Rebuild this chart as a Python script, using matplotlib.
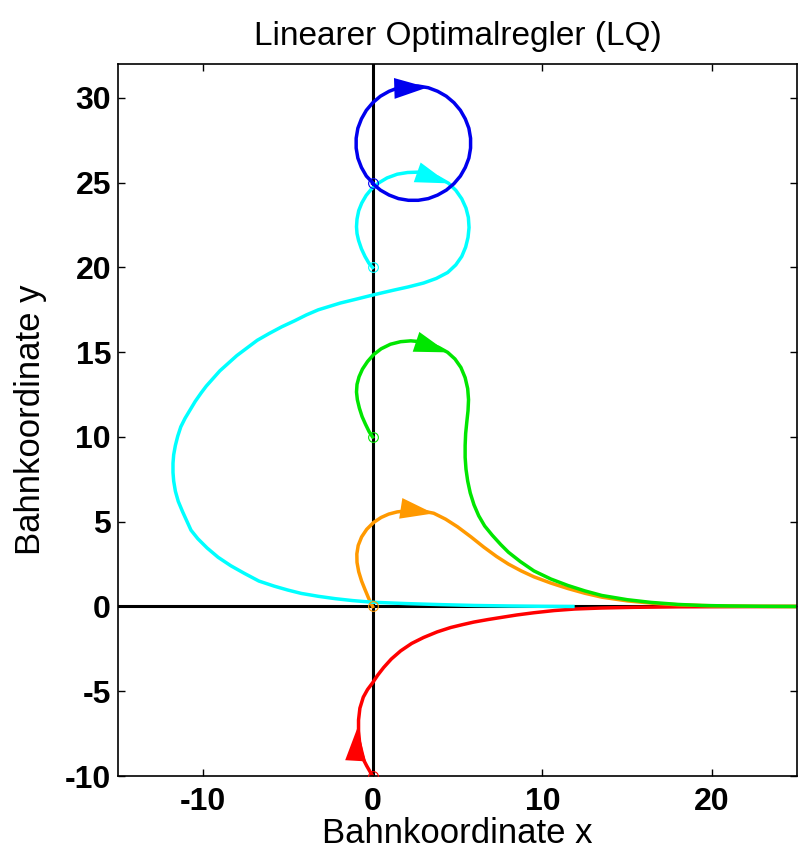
import matplotlib
matplotlib.use("Agg")
import matplotlib.pyplot as plt

plt.rcParams['font.family'] = ['Liberation Sans', 'DejaVu Sans']
plt.rcParams['axes.unicode_minus'] = False

# trajectories (x, y), start point first
red_x = [0, -0.15, -0.35, -0.53, -0.67, -0.77, -0.83, -0.83, -0.75, -0.55, -0.3, 0, 0.3, 0.65, 1.1, 1.65, 2.3, 3.0, 3.8,
         4.6, 5.3, 5.96, 6.8, 7.55, 8.5, 9.5, 10.7, 11.9, 13.5, 15.4, 18, 21, 25]
red_y = [-10, -9.75, -9.4, -9.05, -8.6, -8.0, -7.35, -6.7, -6.0, -5.35, -4.9, -4.5, -4.05, -3.6, -3.1, -2.62, -2.18, -1.83, -1.5,
         -1.24, -1.07, -0.92, -0.77, -0.65, -0.5, -0.37, -0.24, -0.15, -0.09, -0.05, -0.02, -0.01, 0]

orange_x = [0, -0.22, -0.45, -0.65, -0.82, -0.92, -0.93, -0.85, -0.65, -0.35, 0.05, 0.5, 0.95, 1.45, 2.0, 2.6, 3.1, 3.6,
            4.3, 5.0, 5.8, 6.55, 7.3, 8.0, 8.75, 9.5, 10.5, 11.5, 12.5, 13.5, 15, 16.5, 18, 20, 22.5, 25]
orange_y = [0, 0.45, 1.0, 1.5, 2.05, 2.6, 3.1, 3.6, 4.1, 4.55, 4.95, 5.25, 5.45, 5.58, 5.64, 5.65, 5.6, 5.5,
            5.15, 4.7, 4.1, 3.5, 2.95, 2.5, 2.1, 1.75, 1.38, 1.06, 0.78, 0.55, 0.33, 0.19, 0.1, 0.04, 0.01, 0]

green_x = [0, -0.2, -0.42, -0.62, -0.78, -0.9, -0.95, -0.92, -0.8, -0.6, -0.3, 0.05, 0.5, 1.05, 1.65, 2.25, 2.8, 3.35,
           3.9, 4.42, 4.85, 5.2, 5.45, 5.6, 5.65, 5.62, 5.55, 5.48, 5.45, 5.45, 5.5, 5.6, 5.75, 5.97, 6.25, 6.6, 7.05,
           7.55, 8.0, 8.7, 9.5, 10.5, 11.5, 12.5, 13.5, 15, 16.4, 18, 19.4, 21, 23, 25]
green_y = [10, 10.3, 10.75, 11.2, 11.7, 12.2, 12.65, 13.1, 13.55, 14.0, 14.45, 14.85, 15.2, 15.47, 15.62, 15.67, 15.62, 15.5,
           15.28, 14.99, 14.6, 14.1, 13.5, 12.85, 12.2, 11.55, 10.9, 10.2, 9.5, 8.8, 8.1, 7.4, 6.7, 6.0, 5.35, 4.75, 4.2,
           3.65, 3.2, 2.65, 2.1, 1.62, 1.24, 0.92, 0.65, 0.4, 0.24, 0.12, 0.06, 0.03, 0.01, 0]

cyan_x = [0, -0.22, -0.45, -0.66, -0.83, -0.92, -0.95, -0.92, -0.82, -0.64, -0.38, -0.05, 0.35, 0.85, 1.45, 2.06, 2.65,
          3.24, 3.85, 4.48, 4.9, 5.25, 5.5, 5.64, 5.68, 5.62, 5.48, 5.25, 4.9, 4.42, 3.75, 3.0, 2.1, 1.24, 0.55, 0,
          -1.0, -1.9, -3.2, -3.9, -4.6, -5.35, -6.1, -6.8, -7.4, -8.0, -8.5, -9.0, -9.4, -9.8, -10.1, -10.45, -10.75,
          -11.05, -11.3, -11.48, -11.62, -11.72, -11.76, -11.76, -11.72, -11.62, -11.45, -11.2, -10.95, -10.7, -10.3,
          -9.75, -9.1, -8.35, -7.55, -6.7, -5.8, -5.0, -4.2, -3.2, -2.2, -1.2, -0.5, 0, 2, 4, 6, 8, 10, 11.8]
cyan_y = [20, 20.25, 20.65, 21.1, 21.6, 22.0, 22.4, 22.85, 23.35, 23.8, 24.25, 24.65, 24.98, 25.28, 25.5, 25.6, 25.62,
          25.55, 25.32, 24.96, 24.55, 24.05, 23.5, 22.95, 22.35, 21.77, 21.2, 20.65, 20.15, 19.7, 19.35, 19.08, 18.85, 18.66, 18.5, 18.37,
          18.12, 17.9, 17.5, 17.2, 16.85, 16.5, 16.1, 15.7, 15.25, 14.8, 14.35, 13.9, 13.45, 13.0, 12.6, 12.1, 11.6,
          11.1, 10.6, 10.05, 9.5, 8.95, 8.45, 7.9, 7.4, 6.8, 6.2, 5.6, 5.05, 4.5, 4.0,
          3.45, 2.9, 2.4, 1.95, 1.5, 1.2, 0.97, 0.77, 0.6, 0.46, 0.35, 0.29, 0.25, 0.17, 0.11, 0.06, 0.03, 0.01, 0.0]

blue_x = [0, -0.37, -0.66, -0.87, -0.97, -0.97, -0.87, -0.66, -0.37, 0.01, 0.46, 0.97, 1.52, 2.11, 2.69, 3.28, 3.83,
          4.34, 4.79, 5.17, 5.46, 5.67, 5.77, 5.77, 5.67, 5.46, 5.17, 4.79, 4.34, 3.83, 3.28, 2.69, 2.11, 1.52, 0.97,
          0.46, 0.01]
blue_y = [25, 25.39, 25.90, 26.45, 27.04, 27.62, 28.21, 28.76, 29.27, 29.72, 30.10, 30.39, 30.60, 30.70, 30.70, 30.60, 30.39,
          30.10, 29.72, 29.27, 28.76, 28.21, 27.62, 27.04, 26.45, 25.90, 25.39, 24.94, 24.56, 24.27, 24.06, 23.96, 23.96, 24.06, 24.27,
          24.56, 24.94]

# arrowheads: (tail, tip)
red_arrow = [(-1.0, -9.03), (-0.89, -7.14)]
orange_arrow = [(1.71, 5.78), (3.6, 5.49)]
green_arrow = [(2.65, 15.58), (4.42, 14.99)]
cyan_arrow = [(2.65, 25.6), (4.48, 24.96)]
blue_arrow = [(1.3, 30.56), (3.24, 30.62)]

series = [
    (red_x, red_y, red_arrow, '#ff0000'),
    (orange_x, orange_y, orange_arrow, '#ff9900'),
    (green_x, green_y, green_arrow, '#00e600'),
    (cyan_x, cyan_y, cyan_arrow, '#00ffff'),
    (blue_x, blue_y, blue_arrow, '#0000ee'),
]

fig = plt.figure(figsize=(8.03, 8.52), dpi=100)
ax = fig.add_axes([0.14695, 0.0892, 0.84558, 0.83568])

ax.axhline(0, color='k', lw=2.2, zorder=1)
ax.axvline(0, color='k', lw=2.2, zorder=1)

for xs, ys, arr, c in series:
    ax.plot(xs, ys, color=c, lw=2.5, zorder=2, solid_joinstyle='round')
    ax.plot(xs[0], ys[0], 'o', mfc='none', mec=c, ms=7, mew=0.8, zorder=3)
    ax.annotate('', xy=arr[1], xytext=arr[0],
                arrowprops=dict(arrowstyle='-|>,head_length=2.4,head_width=0.75',
                                mutation_scale=10, color=c, lw=0,
                                shrinkA=0, shrinkB=0), zorder=3)

ax.set_xlim(-15, 25)
ax.set_ylim(-10, 32)
ax.set_xticks([-10, 0, 10, 20])
ax.set_yticks([-10, -5, 0, 5, 10, 15, 20, 25, 30])

ax.tick_params(direction='in', length=5, width=1, top=True, right=True, labelsize=23)
ax.tick_params(axis='x', pad=8)
ax.tick_params(axis='y', pad=5)
for lab in ax.get_xticklabels() + ax.get_yticklabels():
    lab.set_fontweight('bold')
for sp in ax.spines.values():
    sp.set_linewidth(1.2)

ax.set_title('Linearer Optimalregler (LQ)', fontsize=24, pad=14)
ax.set_xlabel('Bahnkoordinate x', fontsize=25, labelpad=0)
ax.set_ylabel('Bahnkoordinate y', fontsize=25, labelpad=13)

plt.savefig('out.png', dpi=100)
